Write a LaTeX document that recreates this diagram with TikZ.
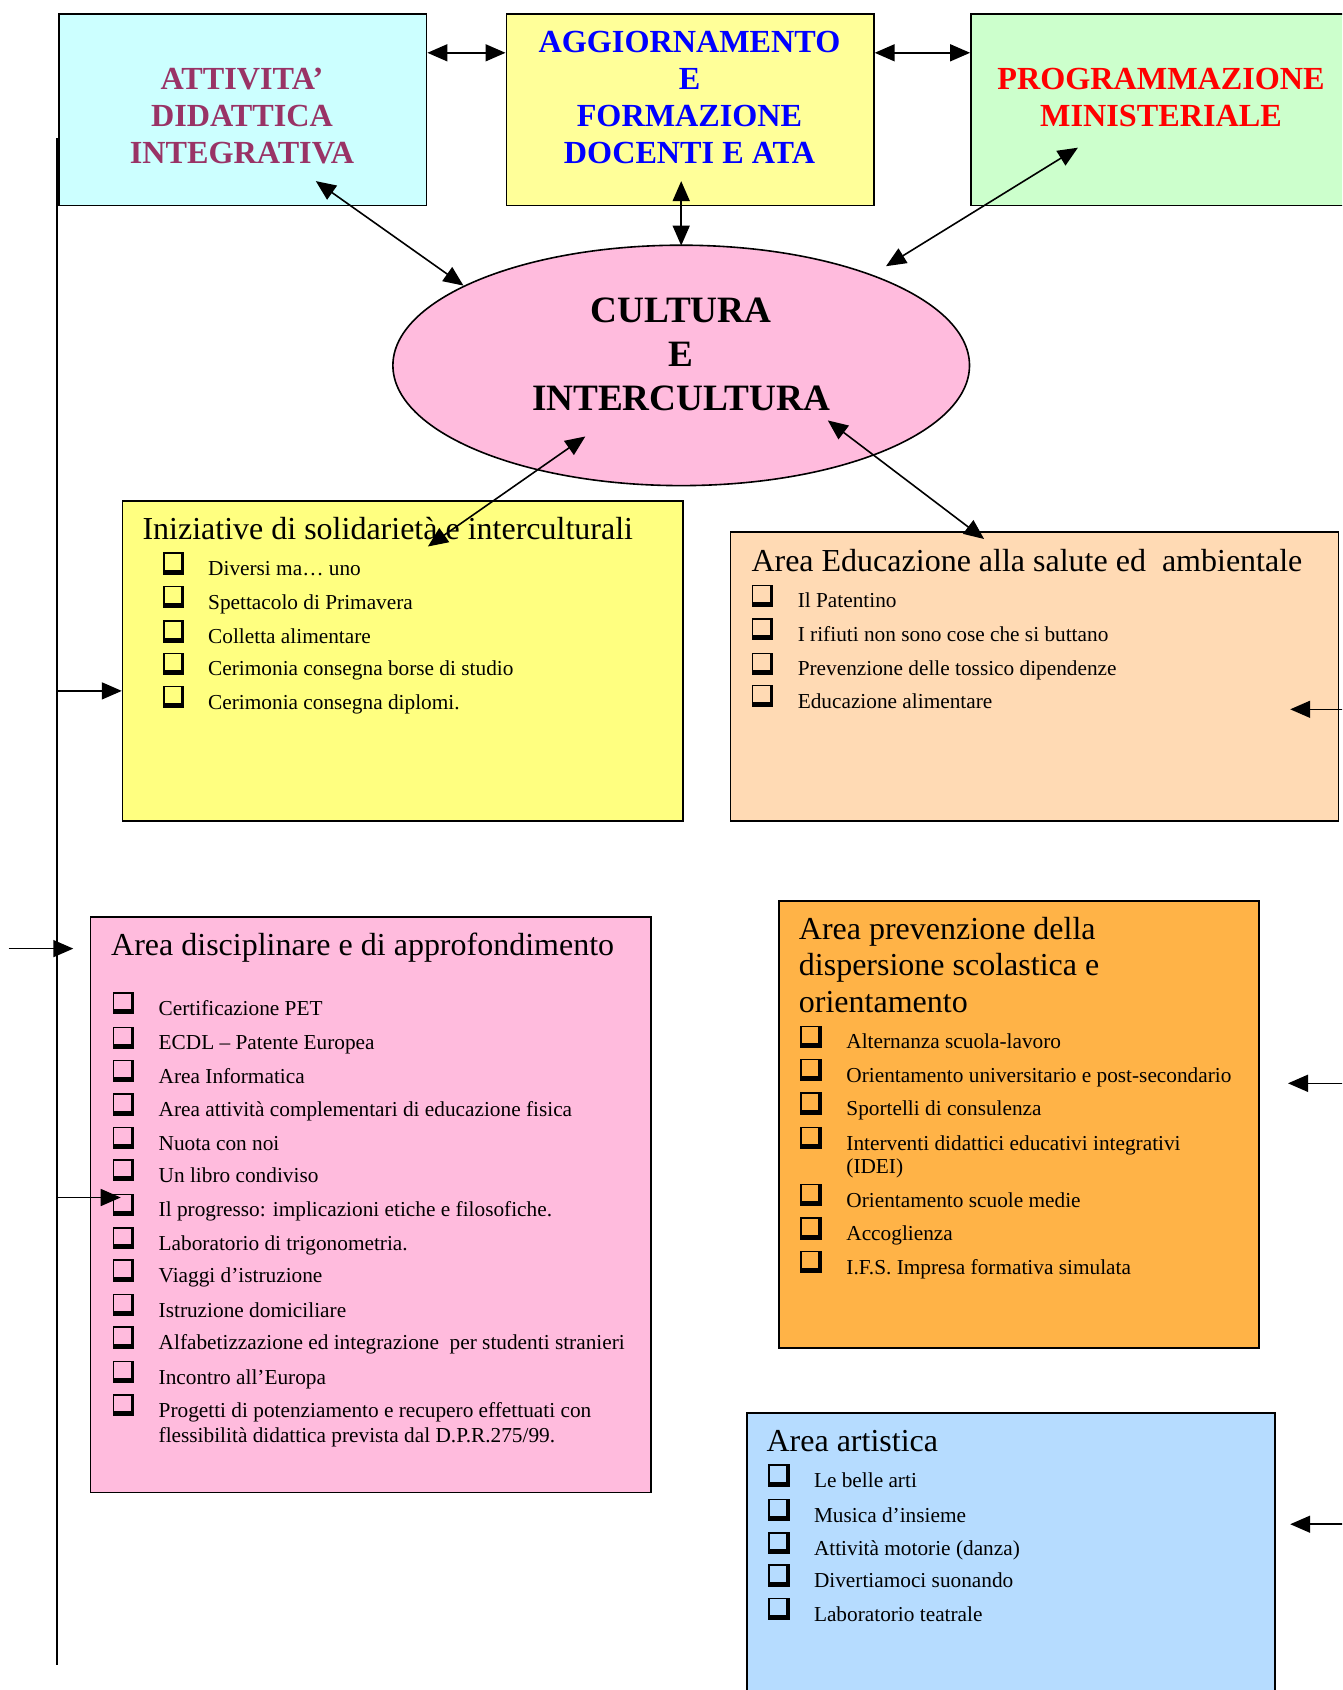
\documentclass[tikz,border=0pt]{standalone}
\usepackage{fontspec}
\setmainfont{Liberation Serif}
\usetikzlibrary{shapes.geometric,arrows.meta}
\definecolor{cyanbox}{HTML}{CCFFFF}
\definecolor{ylwtop}{HTML}{FFFF99}
\definecolor{greenbox}{HTML}{CCFFCC}
\definecolor{pinkell}{HTML}{FFBBDD}
\definecolor{ylwbox}{HTML}{FFFF80}
\definecolor{peach}{HTML}{FFDAB4}
\definecolor{pinkbox}{HTML}{FFBBDD}
\definecolor{orangebox}{HTML}{FFB347}
\definecolor{bluebox}{HTML}{B6DCFF}
\definecolor{plum}{HTML}{993366}
\tikzset{
  box/.style={draw=black, line width=1.6pt, rectangle, anchor=north west, inner sep=0pt},
  arr/.style={line width=1.6pt, -{Triangle[length=20pt,width=17pt]}},
  darr/.style={line width=1.6pt, {Triangle[length=20pt,width=17pt]}-{Triangle[length=20pt,width=17pt]}},
  ttl/.style={anchor=base west, inner sep=0pt, font=\fontsize{32}{36.6}\selectfont},
  itm/.style={anchor=base west, inner sep=0pt, font=\fontsize{21.3}{24.5}\selectfont},
  big/.style={align=center, inner sep=0pt, font=\fontsize{32.2}{37}\selectfont\bfseries},
  chk/.pic={
    \draw[line width=1.5pt] (0,0) rectangle (19,19);
    \fill (-0.75,16.5) rectangle (20.5,21.5);
    \fill (17,-0.75) rectangle (20.5,21.5);
  }
}
\newcommand{\mylist}[4]{%
  \foreach \yy/\ytxt [count=\k] in {#4} {
    \pic at (#2,\yy-15) {chk};
    \node[itm, name=#1\k] at (#3,\yy+7.5) {\ytxt};
  }%
}
\begin{document}
\begin{tikzpicture}[x=1pt,y=-1pt]
\useasboundingbox (0,0) rectangle (1342,1690);
\clip (0,0) rectangle (1342,1690);

% top boxes
\node[box, fill=cyanbox, minimum width=367.6pt, minimum height=191.9pt] (att) at (58.2,12.9) {};
\node[box, fill=ylwtop, minimum width=367.6pt, minimum height=191.9pt] (agg) at (505.5,12.9) {};
\node[box, fill=greenbox, minimum width=380pt, minimum height=191.9pt] (prog) at (970.1,12.9) {};
\node[big, text=plum] (atttxt) at (242,116.5) {ATTIVITA’\\DIDATTICA\\INTEGRATIVA};
\node[big, text=blue] (aggtxt) at (689.5,97.5) {AGGIORNAMENTO\\E\\FORMAZIONE\\DOCENTI E ATA};
\node[big, text=red] (progtxt) at (1161,97.5) {PROGRAMMAZIONE\\MINISTERIALE};

% ellipse
\node[ellipse, draw=black, line width=1.6pt, fill=pinkell, minimum width=576.6pt, minimum height=240.4pt, inner sep=0pt] (ell) at (681.2,365.4) {};
\node[align=center, inner sep=0pt, font=\fontsize{37.2}{44}\selectfont\bfseries] (culttxt) at (681.2,354) {CULTURA\\E\\INTERCULTURA};

% content boxes
\node[box, fill=ylwbox, minimum width=560.5pt, minimum height=320.2pt] (ini) at (121.8,500.1) {};
\node[box, fill=peach, minimum width=608pt, minimum height=288.9pt] (edu) at (729.7,531.4) {};
\node[box, fill=pinkbox, minimum width=560.5pt, minimum height=575.6pt] (disc) at (89.5,916.2) {};
\node[box, fill=orangebox, minimum width=479.7pt, minimum height=447.4pt] (prev) at (778.2,900) {};
\node[box, fill=bluebox, minimum width=528.2pt, minimum height=300pt] (art) at (745.9,1412) {};

% Iniziative
\node[ttl] (initl) at (142.3,539.3) {Iniziative di solidarietà e interculturali};
\mylist{ini}{163.8}{208}{568/Diversi ma… uno, 601.5/Spettacolo di Primavera, 636/Colletta alimentare,
  668.3/Cerimonia consegna borse di studio, 701.7/Cerimonia consegna diplomi.}

% Educazione
\node[ttl] (edutl) at (751.3,571.6) {Area Educazione alla salute ed~~ambientale};
\mylist{edu}{752.5}{797.6}{600.4/Il Patentino, 633.8/I rifiuti non sono cose che si buttano,
  668.3/Prevenzione delle tossico dipendenze, 700.6/Educazione alimentare}

% Disciplinare
\node[ttl] (disctl) at (111,955.3) {Area disciplinare e di approfondimento};
\mylist{disc}{113.5}{158.5}{1007.8/Certificazione PET, 1042.3/ECDL – Patente Europea, 1075.7/Area Informatica,
  1109.2/Area attività complementari di educazione fisica, 1142.6/Nuota con noi, 1174.9/Un libro condiviso,
  1209.4/Il progresso: implicazioni etiche e filosofiche., 1242.8/Laboratorio di trigonometria.,
  1275.2/Viaggi d’istruzione, 1309.7/Istruzione domiciliare,
  1342/Alfabetizzazione ed integrazione~~per studenti stranieri, 1376.5/Incontro all’Europa,
  1409.9/Progetti di potenziamento e recupero effettuati con}
\node[itm] (disc13b) at (158.5,1442.2) {flessibilità didattica prevista dal D.P.R.275/99.};

% Prevenzione
\node[ttl] (prevtl1) at (798.7,939.1) {Area prevenzione della};
\node[ttl] (prevtl2) at (798.7,975.8) {dispersione scolastica e};
\node[ttl] (prevtl3) at (798.7,1012.4) {orientamento};
\mylist{prev}{801}{846.2}{1041.3/Alternanza scuola-lavoro, 1074.7/Orientamento universitario e post-secondario,
  1108.1/Sportelli di consulenza, 1142.6/Interventi didattici educativi integrativi,
  1199.7/Orientamento scuole medie, 1233.1/Accoglienza, 1266.5/I.F.S. Impresa formativa simulata}
\node[itm] (prev4b) at (846.2,1173.8) {(IDEI)};

% Artistica
\node[ttl] (arttl) at (766.4,1451.2) {Area artistica};
\mylist{art}{769}{813.8}{1480/Le belle arti, 1514.5/Musica d’insieme, 1547.9/Attività motorie (danza),
  1580.2/Divertiamoci suonando, 1613.6/Laboratorio teatrale}

% connectors among top boxes and ellipse
\draw[darr] ([yshift=-39.9pt]att.north east) -- ([yshift=-39.9pt]agg.north west);
\draw[darr] ([yshift=-39.9pt]agg.north east) -- ([yshift=-39.9pt]prog.north west);
\coordinate (attin) at (315.8,181.1);
\coordinate (ellatt) at (463.5,285.6);
\draw[darr] (attin) -- (ellatt);
\coordinate (aggin) at (681.2,181.1);
\coordinate (ellagg) at (681.2,245.6);
\draw[darr] (aggin) -- (ellagg);
\coordinate (progin) at (1077.9,147.7);
\coordinate (ellprog) at (886,266.2);
\draw[darr] (progin) -- (ellprog);
\coordinate (ellini) at (585.3,436.5);
\coordinate (iniin) at (427.9,546.5);
\draw[darr] (ellini) -- (iniin);
\coordinate (elledu) at (827.8,420.4);
\coordinate (eduin) at (984.1,539);
\draw[darr] (elledu) -- (eduin);

% left vertical line and its arrows
\coordinate (vtop) at (57.1,138);
\coordinate (vbot) at (57.1,1665);
\draw[line width=1.5pt] (vtop) -- (vbot);
\coordinate (vini) at (57.1,690.9);
\draw[arr] (vini) -- (ini.west |- vini);
\coordinate (dstart) at (8.6,948.6);
\coordinate (dtip) at (73.3,948.6);
\draw[arr] (dstart) -- (dtip);
\coordinate (vprog) at (57.1,1197.5);
\coordinate (progtip) at (120.7,1197.5);
\draw[arr] (vprog) -- (progtip);

% right-side arrows
\coordinate (r1s) at (1345,709.3);
\coordinate (r1e) at (1290.2,709.3);
\draw[arr] (r1s) -- (r1e);
\coordinate (r2s) at (1345,1083.3);
\coordinate (r2e) at (1288,1083.3);
\draw[arr] (r2s) -- (r2e);
\coordinate (r3s) at (1345,1524.2);
\coordinate (r3e) at (1290.2,1524.2);
\draw[arr] (r3s) -- (r3e);
\end{tikzpicture}
\end{document}
